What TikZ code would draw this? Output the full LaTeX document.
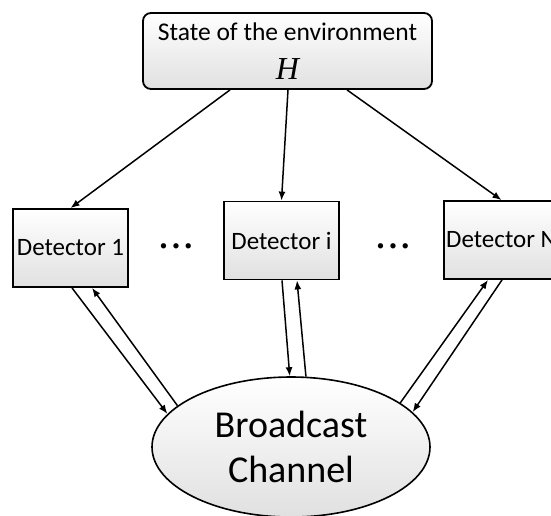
\documentclass[tikz,border=0pt]{standalone}
\usepackage{fontspec}
\setmainfont{Carlito}
\newfontfamily\hfont{Liberation Serif}
\usetikzlibrary{shapes.geometric,arrows.meta}
\tikzset{box/.style={rectangle,draw,line width=1.8pt,top color=white,bottom color=black!12,minimum width=115pt,minimum height=78pt,inner sep=0pt,font=\fontsize{25}{28}\selectfont}}
\tikzset{link/.style={-{Latex[length=9pt,width=7pt]},line width=1.5pt}}
\tikzset{dots/.style={font=\fontsize{15}{15}\selectfont,inner sep=0pt}}

\begin{document}
\begin{tikzpicture}[x=1pt,y=1pt]
      \useasboundingbox (0,0) rectangle (551,-515);
      \node[box,rounded corners=8pt,minimum width=289pt,minimum height=76pt,align=center,font=\fontsize{25.5}{28}\selectfont] (H) at (287.5,-51) {State of the environment\\[11pt]{\hfont\itshape\fontsize{32}{32}\selectfont H}};
      \node[box] (D1) at (70.5,-248) {Detector 1};
      \node[box] (Di) at (281.5,-240.5) {Detector i};
      \node[box] (DN) at (501.5,-240) {Detector N};
      \node[dots] (dots1) at (176,-247) {\textbullet\hspace{5pt}\textbullet\hspace{5pt}\textbullet};
      \node[dots] (dots2) at (393,-247) {\textbullet\hspace{5pt}\textbullet\hspace{5pt}\textbullet};
      \node[ellipse,draw,line width=1.6pt,top color=white,bottom color=black!12,minimum width=278pt,minimum height=140pt,inner sep=0pt,align=center,font=\fontsize{38}{45}\selectfont] (BC) at (291,-447) {Broadcast\\Channel};
      \foreach \s/\d in {-57.5/D1,0.5/Di,59.5/DN}
        \draw[link] ([xshift=\s pt]H.south) -- (\d.north);
      \draw[link] ([xshift=1.5pt]D1.south) -- (BC.165);
      \draw[link] (BC.160) -- ([xshift=21.5pt]D1.south);
      \draw[link] ([xshift=0.5pt]Di.south) -- (BC.91);
      \draw[link] (BC.78) -- ([xshift=15.5pt]Di.south);
      \draw[link] (BC.22) -- ([xshift=-13.5pt]DN.south);
      \draw[link] ([xshift=0.5pt]DN.south) -- (BC.16);
    \end{tikzpicture}
\end{document}
